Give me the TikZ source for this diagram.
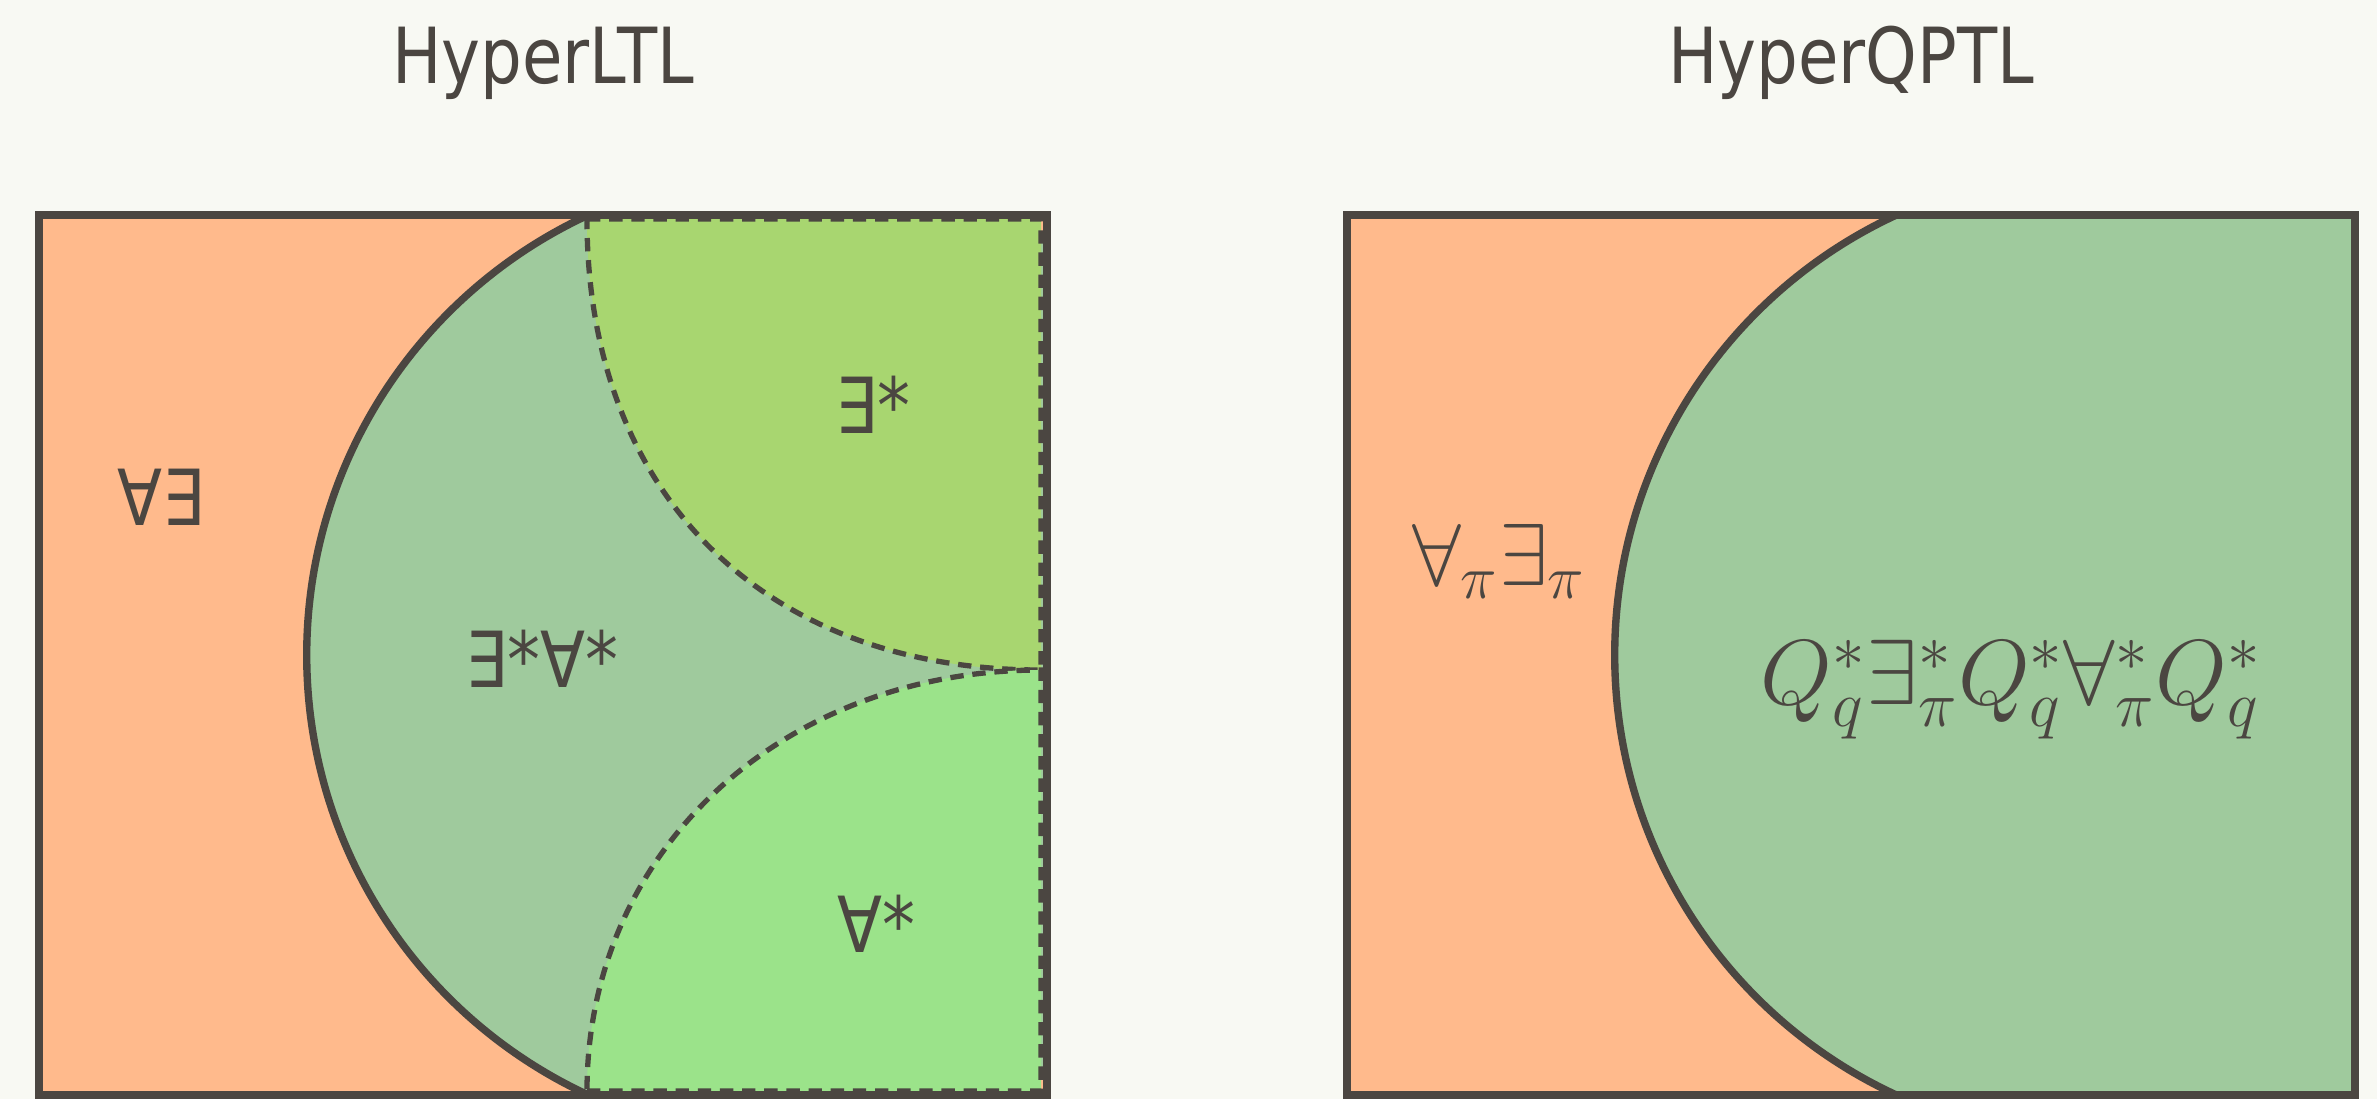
\documentclass[tikz,border=0pt]{standalone}
\usepackage{fix-cm}
\usepackage{fontspec}
\usepackage{amsmath}
\usepackage{tikz}
\usetikzlibrary{calc}

\newfontfamily\slidefont{DejaVu Sans}[FakeStretch=0.85]

\definecolor{bgCream}{HTML}{F8F9F3}
\definecolor{edgeDark}{HTML}{4B4641}
\definecolor{fillOrange}{HTML}{FFBA8C}
\definecolor{fillSage}{HTML}{9FCA9D}
\definecolor{fillLime}{HTML}{A8D670}
\definecolor{fillMint}{HTML}{9BE38A}

\begin{document}
\begin{tikzpicture}[
      x=0.01cm, y=-0.01cm,
      boxEdge/.style={draw=edgeDark, line width=2.1pt},
      arcEdge/.style={draw=edgeDark, line width=2.1pt},
      cornerDash/.style={draw=edgeDark, line width=1.5pt, dash pattern=on 3.8pt off 2.5pt},
      titleLabel/.style={text=edgeDark, font=\slidefont\fontsize{22}{26}\selectfont, anchor=base, inner sep=0pt},
      quantLabel/.style={text=edgeDark, font=\slidefont\fontsize{22}{26}\selectfont, anchor=base, inner sep=0pt},
      mathLabel/.style={text=edgeDark, font=\fontsize{25}{30}\selectfont, anchor=base, inner sep=0pt}
    ]

      % ---------- Background ----------
      \useasboundingbox (0,0) rectangle (2377,1099);
      \fill[bgCream] (0,0) rectangle (2377,1099);

      % ---------- Titles ----------
      \node[titleLabel] (ltlTitle)  at (543,83)  {HyperLTL};
      \node[titleLabel] (qptlTitle) at (1851,83) {HyperQPTL};

      % ---------- HyperLTL box ----------
      \coordinate (ltlCentre) at (791,655);
      \begin{scope}
        \clip (39,215) rectangle (1047,1095);
        \fill[fillOrange] (39,215) rectangle (1047,1095);
        \fill[fillSage] (ltlCentre) circle[radius=4.84cm];
        \clip (39,215) rectangle (791,1095);
        \draw[arcEdge] (ltlCentre) circle[radius=4.84cm];
      \end{scope}

      % upper and lower corner regions (dashed)
      \filldraw[fill=fillLime, cornerDash] (587,219) -- (1041,219) -- (1041,670)
        .. controls (764,670) and (587,494) .. cycle;
      \filldraw[fill=fillMint, cornerDash] (587,1091) -- (1041,1091) -- (1041,670)
        .. controls (782,670) and (587,851) .. cycle;

      \draw[boxEdge] (39,215) rectangle (1047,1095);

      \node[quantLabel] (allExists)    at (161,525) {∀∃};
      \node[quantLabel] (existsForall) at (542,687) {∃*∀*};
      \node[quantLabel] (existsStar)   at (873,433) {∃*};
      \node[quantLabel] (forallStar)   at (876,952) {∀*};

      % ---------- HyperQPTL box ----------
      \coordinate (qptlCentre) at (2099,655);
      \begin{scope}
        \clip (1347,215) rectangle (2355,1095);
        \fill[fillOrange] (1347,215) rectangle (2355,1095);
        \fill[fillSage] (qptlCentre) circle[radius=4.84cm];
        \fill[fillSage] (2099,215) rectangle (2355,1095);
        \clip (1347,215) rectangle (2099,1095);
        \draw[arcEdge] (qptlCentre) circle[radius=4.84cm];
      \end{scope}

      \draw[boxEdge] (1347,215) rectangle (2355,1095);

      \node[mathLabel] (qptlLeft)  at (1499,585) {$\forall_\pi\exists_\pi$};
      \node[mathLabel, font=\fontsize{26.3}{31}\selectfont] (qptlRight) at (2011,704) {$Q_q^*\exists_\pi^*Q_q^*\forall_\pi^*Q_q^*$};

\end{tikzpicture}
\end{document}
